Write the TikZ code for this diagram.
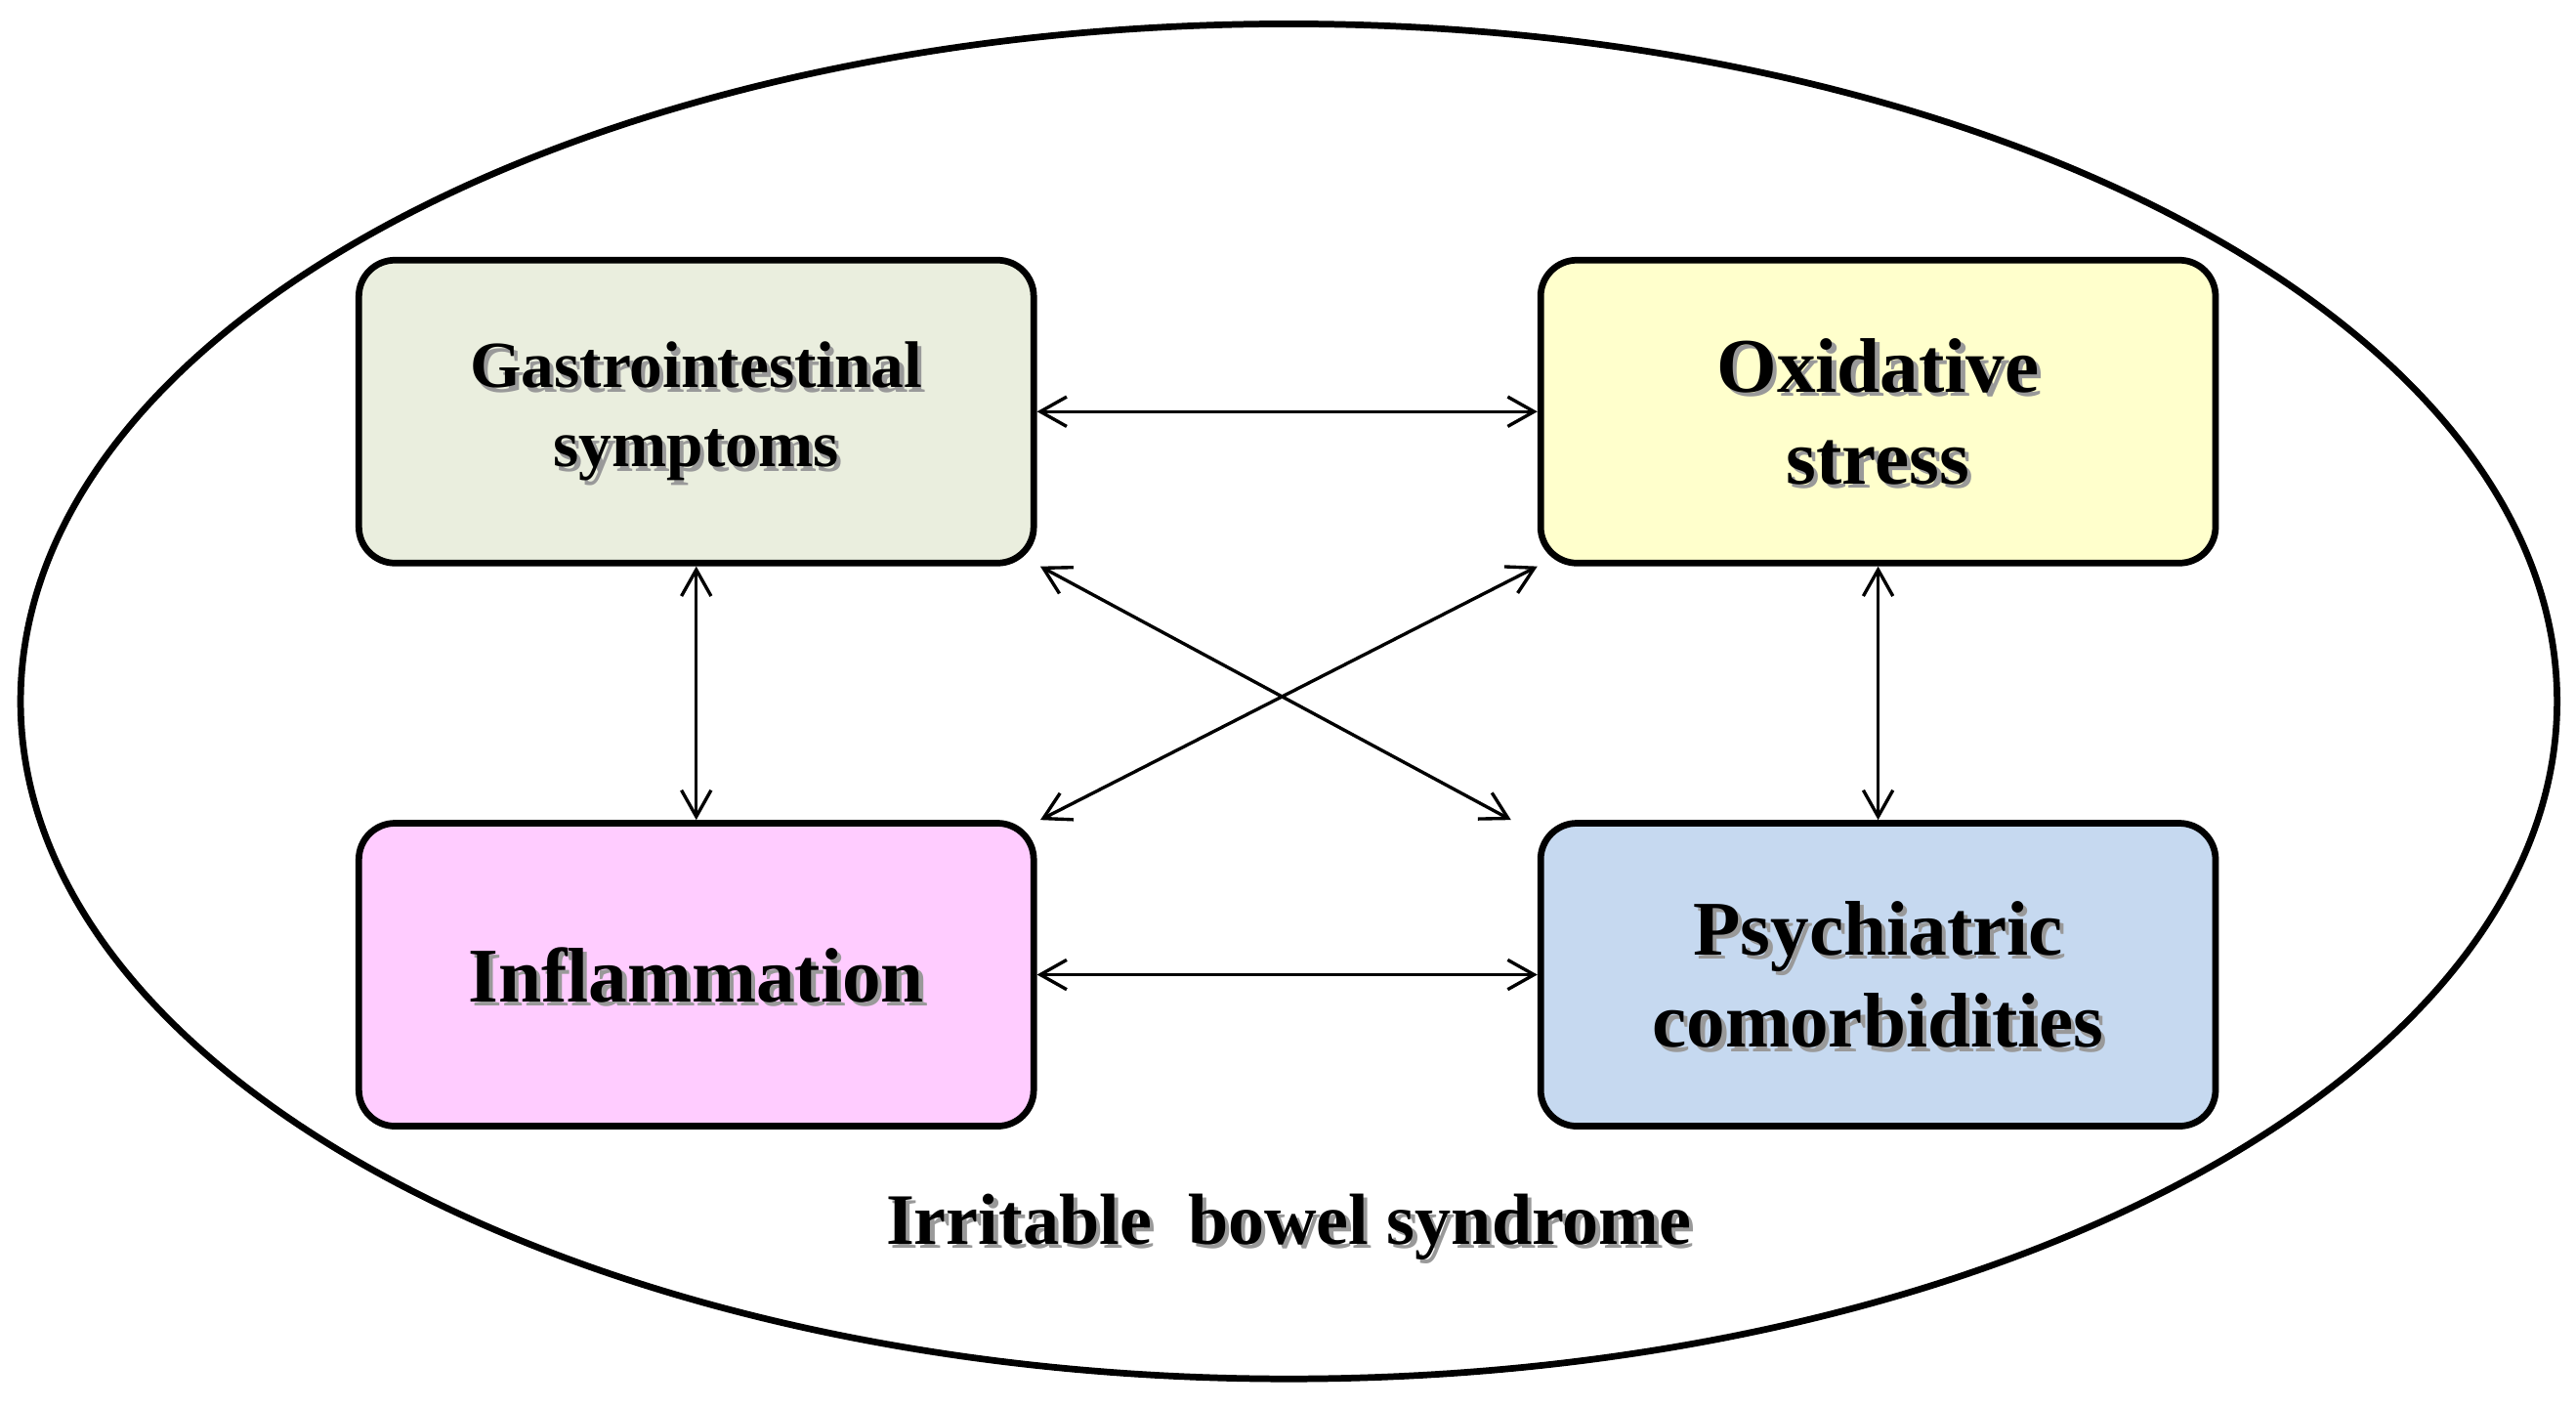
\documentclass[tikz,border=0pt]{standalone}
\usepackage{fontspec}
\setmainfont{Liberation Serif}
\usetikzlibrary{arrows.meta,calc,shapes.geometric}
\definecolor{cgi}{HTML}{EAEEDE}
\definecolor{cox}{HTML}{FFFFCC}
\definecolor{cin}{HTML}{FFCCFF}
\definecolor{cps}{HTML}{C6D9F0}
\begin{document}
\begin{tikzpicture}[x=1pt,y=-1pt,
  box/.style={draw=black,line width=4pt,rounded corners=22pt,minimum width=410pt,minimum height=184pt},
  lbl/.style={align=center,inner sep=0},
  shd/.style={lbl,text=black!40,xshift=2.5pt,yshift=-2.5pt},
  fa/.style={font=\fontsize{40}{48}\selectfont\bfseries},
  fb/.style={font=\fontsize{47}{56}\selectfont\bfseries},
  fc/.style={font=\fontsize{44}{52}\selectfont\bfseries},
  conn/.style={line width=2pt,{Straight Barb[length=16pt,width=18pt,line width=2pt]}-{Straight Barb[length=16pt,width=18pt,line width=2pt]}}]
\useasboundingbox (0,0) rectangle (1565,855);
\node[draw=black,line width=4pt,ellipse,inner sep=0,minimum width=1541pt,minimum height=823pt] (e) at (783,426) {};
\node[box,fill=cgi] (gi) at (423,250) {};
\node[box,fill=cox] (ox) at (1141,250) {};
\node[box,fill=cin] (in) at (423,592) {};
\node[box,fill=cps] (ps) at (1141,592) {};
\node[shd,fa] (gis) at (423,250) {Gastrointestinal\\symptoms};
\node[lbl,fa] (git) at (423,250) {Gastrointestinal\\symptoms};
\node[shd,fb] (oxs) at (1141,250) {Oxidative\\stress};
\node[lbl,fb] (oxt) at (1141,250) {Oxidative\\stress};
\node[shd,fb] (ins) at (423,592) {Inflammation};
\node[lbl,fb] (int) at (423,592) {Inflammation};
\node[shd,fb] (pss) at (1141,592) {Psychiatric\\comorbidities};
\node[lbl,fb] (pst) at (1141,592) {Psychiatric\\comorbidities};
\node[shd,fc] (ibs) at (783,745) {Irritable\ \ bowel syndrome};
\node[lbl,fc] (ibt) at (783,745) {Irritable\ \ bowel syndrome};
\draw[conn] (gi.east) -- (ox.west);
\draw[conn] (in.east) -- (ps.west);
\draw[conn] (gi.south) -- (in.north);
\draw[conn] (ox.south) -- (ps.north);
\draw[conn] ($(gi.south east)+(2,0)$) -- ($(ps.north west)+(-16,0)$);
\draw[conn] (ox.south west) -- ($(in.north east)+(2,0)$);
\end{tikzpicture}
\end{document}
